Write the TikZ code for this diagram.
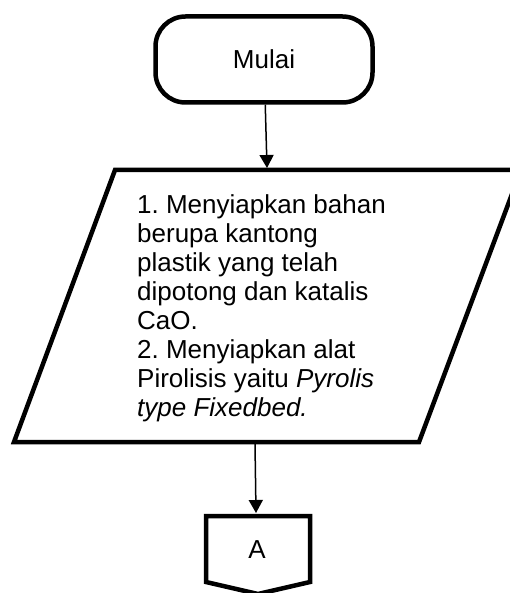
\documentclass[tikz,border=0pt]{standalone}
\usepackage{fontspec}
\setmainfont{Liberation Sans}
\usetikzlibrary{positioning, arrows.meta}
\frenchspacing

\begin{document}
\begin{tikzpicture}[x=1pt, y=-1pt,
        box/.style={draw, line width=4.5pt},
        flow/.style={-{Triangle[length=13pt, width=14pt]}, line width=1.5pt},
        txt/.style={font=\fontsize{26}{29}\selectfont, inner sep=0pt}]
        \useasboundingbox (0,0) rectangle (509,593);

        % Draw the start
        \node[box, txt, rounded corners=30pt, minimum width=217pt, minimum height=86pt] (mulai) at (264,59.5) {Mulai};

        % Draw the input
        \draw[box] (115,170) coordinate (p1) -- (521,170) coordinate (p2)
            -- (419,442) coordinate (p3) -- (14,442) coordinate (p4) -- cycle;
        \node[txt, anchor=north west, align=left] (steps) at (137,194)
            {1. Menyiapkan bahan\\ berupa kantong\\ plastik yang telah\\ dipotong dan katalis\\ CaO.\\
             2. Menyiapkan alat\\ Pirolisis yaitu \textit{Pyrolis}\\ \textit{type Fixedbed.}};
        \coordinate (inTop) at (267,168);
        \coordinate (inBot) at (255,444);

        % Draw the off-page connector
        \draw[box] (206,516) -- (310,516) -- (310,582) -- (258,594) -- (206,582) -- cycle;
        \node[txt] (a) at (257,550) {A};
        \coordinate (aTop) at (256,513);

        % Connect the steps with arrows
        \draw[flow] (mulai) -- (inTop);
        \draw[flow] (inBot) -- (aTop);
    \end{tikzpicture}
\end{document}
